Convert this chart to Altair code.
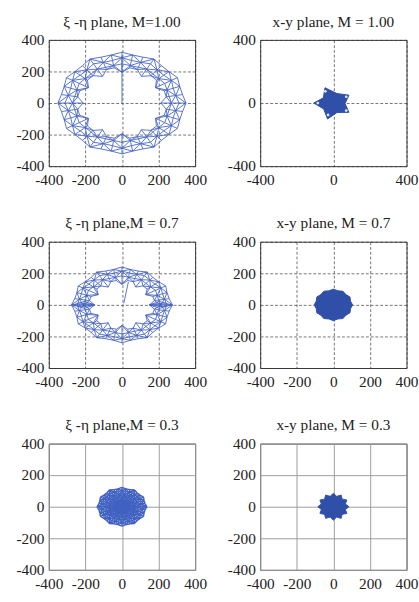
import altair as alt
import numpy as np
import pandas as pd

# ---- axis setup -----------------------------------------------------------
AXIS_TICKS = [-400, -200, 0, 200, 400]
DOMAIN = [-400, 400]
MESH_COLOR = "#4262c2"
FILL_COLOR = "#2f4fa8"
FONT = "Liberation Serif"

# ---- xi-eta plane meshes: concentric node rings, 36 nodes per ring -------
# radii of each ring (outer -> inner), y compression of the ring
mesh_m100_rings = [[350, 336, 336] * 12, [312, 298, 298] * 12, [270, 262, 262] * 12,
                   [212, 246, 246] * 12]
mesh_m100_sy = 0.92
mesh_m100_extra = [(0, 0, 0, 300)]

mesh_m070_rings = [[276, 262, 262] * 12, [246, 236, 236] * 12, [212, 204, 204] * 12,
                   [150, 180, 180] * 12]
mesh_m070_sy = 0.87
mesh_m070_extra = [
    (10, 10, 35, 145),
    (-270, 0, -150, 0), (-270, 0, -205, 22), (-270, 0, -205, -22),
    (-150, 0, -205, 22), (-150, 0, -205, -22), (-240, 12, -160, 4), (-240, -12, -160, -4),
    (270, 0, 150, 0), (270, 0, 205, 22), (270, 0, 205, -22),
    (150, 0, 205, 22), (150, 0, 205, -22), (240, 12, 160, 4), (240, -12, 160, -4),
]

mesh_m030_rings = [[136, 128, 128] * 12, [114, 108, 108] * 12, [92, 86, 86] * 12,
                   [72, 66, 66] * 12, [38, 34, 34] * 12, [12, 12, 12] * 12]
mesh_m030_sy = 0.9
mesh_m030_extra = [(0, 0, 75, 0), (0, 0, -75, 0), (0, 0, 0, 68), (0, 0, 0, -68),
                   (0, 0, 65, 34), (0, 0, -65, 34), (0, 0, 65, -34), (0, 0, -65, -34),
                   (0, 0, 37, 58), (0, 0, -37, 58), (0, 0, 37, -58), (0, 0, -37, -58)]

# ---- x-y plane filled outlines ---------------------------------------------
star5_x = [-107, -55, -46, 20, 85, 64, 85, 20, -32, -53]
star5_y = [0, 33, 97, 60, 50, -3, -59, -60, -101, -38]
star5_holes_x = [-85, -44, 70, 70, -29]
star5_holes_y = [0, 74, 40, -48, -75]

disc_r = [105, 97] * 12
disc_sy = 0.95

star12_r = [85, 68] * 12
star12_sy = 1.0


def mesh_edges(rings, sy, extra):
    """Quad mesh between neighbouring rings, each quad split along an alternating diagonal."""
    n = len(rings[0])
    step = 360.0 / n
    nodes = []
    for radii in rings:
        ring = []
        for i, r in enumerate(radii):
            a = np.deg2rad(i * step)
            ring.append((r * np.cos(a), r * np.sin(a) * sy))
        nodes.append(ring)
    segs = []
    for k, ring in enumerate(nodes):
        for i in range(n):
            segs.append(ring[i] + ring[(i + 1) % n])
        if k + 1 < len(nodes):
            nxt = nodes[k + 1]
            for i in range(n):
                j = (i + 1) % n
                segs.append(ring[i] + nxt[i])
                if (i + k) % 2 == 0:
                    segs.append(ring[i] + nxt[j])
                else:
                    segs.append(ring[j] + nxt[i])
    segs += [tuple(e) for e in extra]
    return pd.DataFrame(segs, columns=["x", "y", "x2", "y2"])


def polar_outline(radii, sy):
    n = len(radii)
    step = 360.0 / n
    pts = []
    for i, r in enumerate(radii + radii[:1]):
        a = np.deg2rad(i * step)
        pts.append((i, r * np.cos(a), r * np.sin(a) * sy))
    return pd.DataFrame(pts, columns=["order", "x", "y"])


def xy_outline(xs, ys):
    xs = list(xs) + [xs[0]]
    ys = list(ys) + [ys[0]]
    return pd.DataFrame({"order": range(len(xs)), "x": xs, "y": ys})


def axes(grid_color, grid_dash, grid_width):
    common = dict(values=AXIS_TICKS, title=None, grid=True, gridColor=grid_color,
                  gridDash=grid_dash, gridWidth=grid_width, domain=False,
                  ticks=False, labelFont=FONT, labelFontSize=16, labelColor="#222",
                  labelOverlap=False, labelFlush=False,
                  labelExpr="replace(datum.label, '\u2212', '-')")
    return (alt.X("x:Q", scale=alt.Scale(domain=DOMAIN, nice=False),
                  axis=alt.Axis(labelPadding=6, **common)),
            alt.Y("y:Q", scale=alt.Scale(domain=DOMAIN, nice=False),
                  axis=alt.Axis(labelPadding=5, **common)))


def mesh_panel(title, df, grid, width=0.9):
    x, y = axes(*grid)
    return alt.Chart(df).mark_rule(color=MESH_COLOR, strokeWidth=width).encode(
        x=x, y=y, x2="x2:Q", y2="y2:Q"
    ).properties(width=153, height=132, title=title)


def fill_panel(title, df, grid, holes=None):
    x, y = axes(*grid)
    shape = alt.Chart(df).mark_line(color=FILL_COLOR, fill=FILL_COLOR, strokeWidth=1).encode(
        x=x, y=y, order="order:Q"
    )
    layers = [shape]
    if holes is not None:
        layers.append(alt.Chart(holes).mark_point(filled=True, color="#dfe6f5", size=8, opacity=1).encode(
            x="x:Q", y="y:Q"))
    return alt.layer(*layers).properties(width=153, height=132, title=title)


dashed = ("#333333", [3, 2], 0.7)
solid = ("#9a9a9a", [], 1.0)

row1 = alt.hconcat(
    mesh_panel("ξ -η   plane, M=1.00", mesh_edges(mesh_m100_rings, mesh_m100_sy, mesh_m100_extra), dashed),
    fill_panel("x-y plane, M = 1.00", xy_outline(star5_x, star5_y), dashed,
               pd.DataFrame({"x": star5_holes_x, "y": star5_holes_y})),
    spacing=20,
)
row2 = alt.hconcat(
    mesh_panel("ξ -η   plane,M = 0.7", mesh_edges(mesh_m070_rings, mesh_m070_sy, mesh_m070_extra), dashed),
    fill_panel("x-y plane, M = 0.7", polar_outline(disc_r, disc_sy), dashed),
    spacing=20,
)
row3 = alt.hconcat(
    mesh_panel("ξ -η   plane,M = 0.3", mesh_edges(mesh_m030_rings, mesh_m030_sy, mesh_m030_extra), solid, 1.5),
    fill_panel("x-y plane, M = 0.3", polar_outline(star12_r, star12_sy), solid),
    spacing=20,
)

chart = alt.vconcat(row1, row2, row3, spacing=28).properties(
    padding={"left": 16, "top": 0, "right": 0, "bottom": 0},
    background="white",
).configure_view(
    stroke="#333333", strokeWidth=1
).configure_title(
    font=FONT, fontSize=16, fontWeight="normal", color="#222", offset=3
)

chart.save("out.html", embed_options={"renderer": "svg", "actions": False})
